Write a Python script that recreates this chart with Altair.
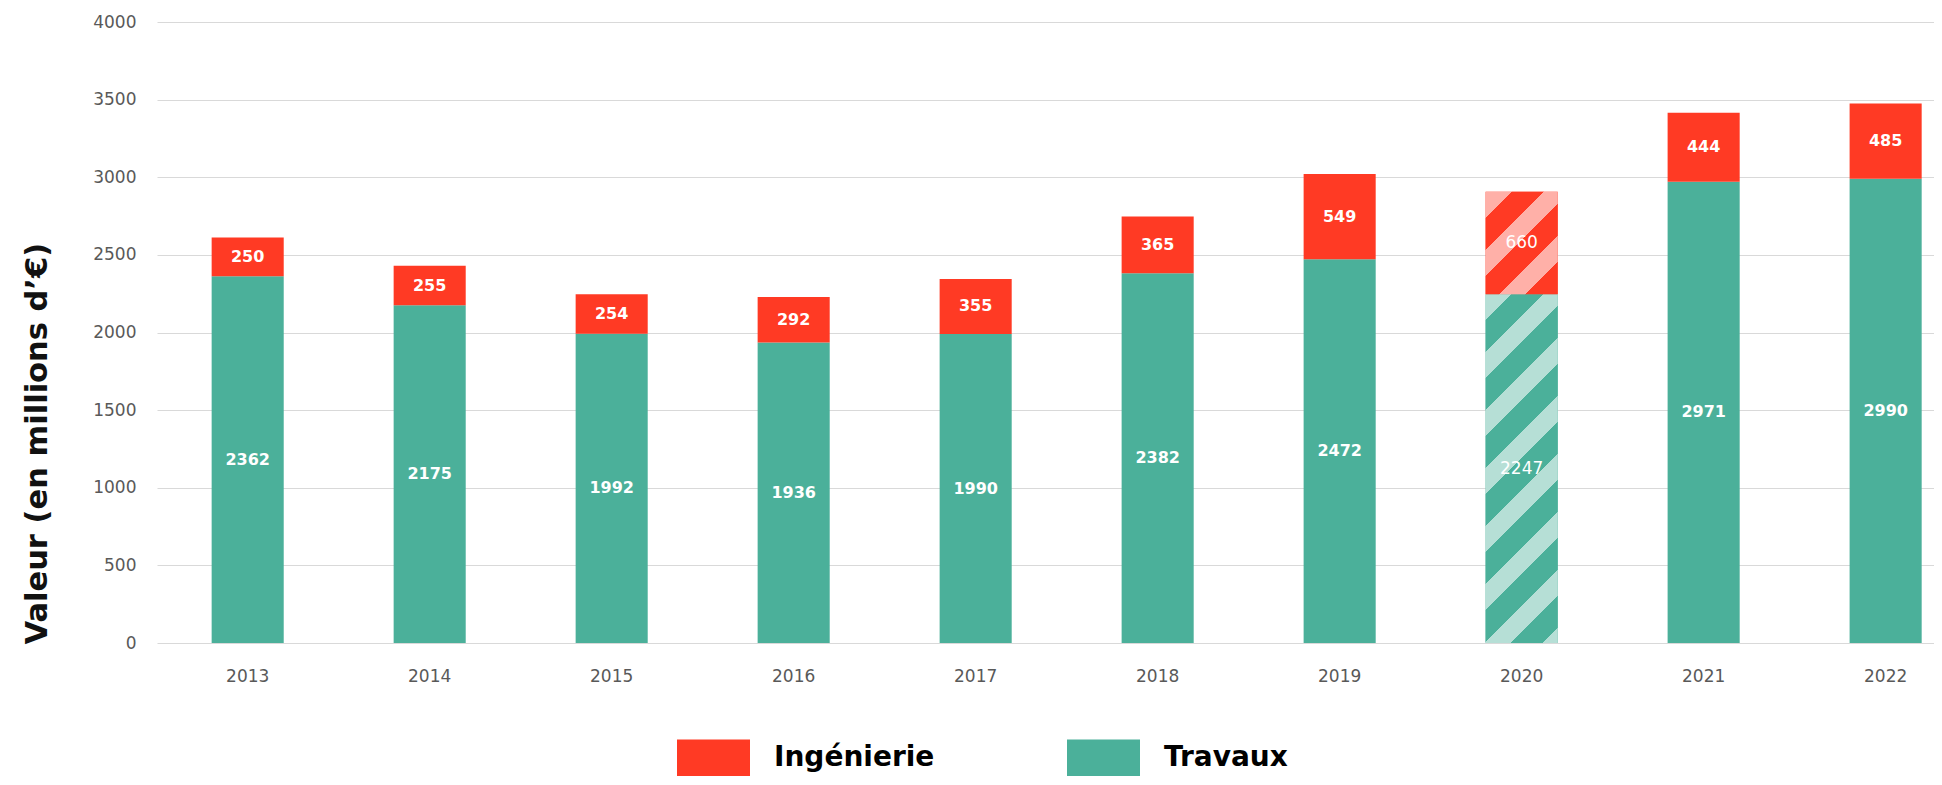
import altair as alt
import pandas as pd

# ---- data ----
years = ["2013", "2014", "2015", "2016", "2017", "2018", "2019", "2020", "2021", "2022"]
travaux = [2362, 2175, 1992, 1936, 1990, 2382, 2472, 2247, 2971, 2990]
ingenierie = [250, 255, 254, 292, 355, 365, 549, 660, 444, 485]
series = ["Ingénierie", "Travaux"]
colors = ["#FF3A24", "#4BB09A"]
light_colors = {"Ingénierie": "#FFB0A8", "Travaux": "#B6DFD6"}
hatched_year = "2020"
y_ticks = [0, 500, 1000, 1500, 2000, 2500, 3000, 3500, 4000]

rows = []
for yr, t, i in zip(years, travaux, ingenierie):
    rows.append({"annee": yr, "serie": "Travaux", "valeur": t, "ordre": 0})
    rows.append({"annee": yr, "serie": "Ingénierie", "valeur": i, "ordre": 1})
df = pd.DataFrame(rows)

# ---- layout ----
PLOT_W, PLOT_H = 1777, 621
Y_MAX = 4000
PAD_INNER, PAD_OUTER, ALIGN = 0.604, 0.184, 0.816
step = PLOT_W / (len(years) - PAD_INNER + 2 * PAD_OUTER)
bar_w = step * (1 - PAD_INNER)


def stripes(value, dark, light, period=58.0, frac=0.45):
    """Diagonal stripes as a hard-stop linear gradient (objectBoundingBox units)."""
    W = bar_w
    H = value * PLOT_H / Y_MAX
    L = W + H
    c = L / (W * W + H * H)
    p = period / L
    stops = []
    k = 0
    while k * p < 1:
        s = k * p
        a = min(s + frac * p, 1.0)
        b = min(s + p, 1.0)
        stops += [
            alt.GradientStop(offset=s, color=light),
            alt.GradientStop(offset=a, color=light),
            alt.GradientStop(offset=a, color=dark),
            alt.GradientStop(offset=b, color=dark),
        ]
        k += 1
    return alt.Gradient(gradient="linear", x1=0, y1=0, x2=c * W, y2=c * H, stops=stops)


idx = years.index(hatched_year)
grad_tr = stripes(travaux[idx], colors[1], light_colors["Travaux"])
grad_ing = stripes(ingenierie[idx], colors[0], light_colors["Ingénierie"])

x_enc = alt.X(
    "annee:N",
    sort=years,
    scale=alt.Scale(paddingInner=PAD_INNER, paddingOuter=PAD_OUTER, align=ALIGN, round=False),
    axis=alt.Axis(
        title=None, labelAngle=0, ticks=False, tickSize=0, domain=False, grid=False,
        labelFont="DejaVu Sans", labelFontSize=17, labelColor="#595959",
        labelBaseline="middle", labelPadding=33,
    ),
)
y_scale = alt.Scale(domain=[0, Y_MAX], nice=False, zero=True)
y_axis = alt.Axis(
    values=y_ticks, format="d", title="Valeur (en millions d’€)", ticks=False, tickSize=0,
    domain=False, grid=True, gridColor="#D9D9D9", gridWidth=1.2,
    labelFont="DejaVu Sans", labelFontSize=17, labelColor="#595959", labelPadding=21,
    titleFont="DejaVu Sans", titleFontSize=30.5, titleFontWeight="bold", titleColor="#111111",
    titleAngle=270, titleAlign="left", titleBaseline="middle", titleX=-120, titleY=622,
)

base = (
    alt.Chart(df)
    .transform_stack(
        stack="valeur", groupby=["annee"], as_=["y0", "y1"],
        sort=[alt.SortField("ordre", order="ascending")],
    )
    .transform_calculate(mid="(datum.y0 + datum.y1) / 2")
)

bars = base.mark_bar().encode(
    x=x_enc,
    y=alt.Y("y0:Q", scale=y_scale, axis=y_axis),
    y2="y1:Q",
    color=alt.Color(
        "serie:N",
        scale=alt.Scale(domain=series, range=colors),
        legend=alt.Legend(
            orient="none", legendX=520, legendY=699, direction="horizontal", title=None,
            symbolType="M-1,-0.5H1V0.5H-1Z", symbolSize=5329, symbolStrokeWidth=0,
            symbolOpacity=1, labelFont="DejaVu Sans", labelFontWeight="bold",
            labelFontSize=28, labelColor="#000000", labelOffset=24, columnPadding=132,
            labelLimit=400, padding=0,
        ),
    ),
)

hatch_tr = base.transform_filter(
    f"datum.annee == '{hatched_year}' && datum.serie == 'Travaux'"
).mark_bar(fill=grad_tr).encode(x=x_enc, y=alt.Y("y0:Q", scale=y_scale, axis=y_axis), y2="y1:Q")

hatch_ing = base.transform_filter(
    f"datum.annee == '{hatched_year}' && datum.serie == 'Ingénierie'"
).mark_bar(fill=grad_ing).encode(x=x_enc, y=alt.Y("y0:Q", scale=y_scale, axis=y_axis), y2="y1:Q")

labels_bold = base.transform_filter(f"datum.annee != '{hatched_year}'").mark_text(
    color="white", font="DejaVu Sans", fontSize=16, fontWeight="bold",
    baseline="middle", align="center",
).encode(x=x_enc, y=alt.Y("mid:Q", scale=y_scale, axis=y_axis), text="valeur:Q")

labels_reg = base.transform_filter(f"datum.annee == '{hatched_year}'").mark_text(
    color="white", font="DejaVu Sans", fontSize=17, fontWeight="normal",
    baseline="middle", align="center",
).encode(x=x_enc, y=alt.Y("mid:Q", scale=y_scale, axis=y_axis), text="valeur:Q")

chart = (
    alt.layer(bars, hatch_tr, hatch_ing, labels_bold, labels_reg)
    .properties(
        width=PLOT_W,
        height=PLOT_H,
        autosize=alt.AutoSizeParams(type="none"),
        padding={"left": 149, "top": 14, "right": 0, "bottom": 134},
        background="white",
    )
    .configure_view(stroke=None)
)

chart.save("out.html", embed_options={"renderer": "svg", "actions": False})
